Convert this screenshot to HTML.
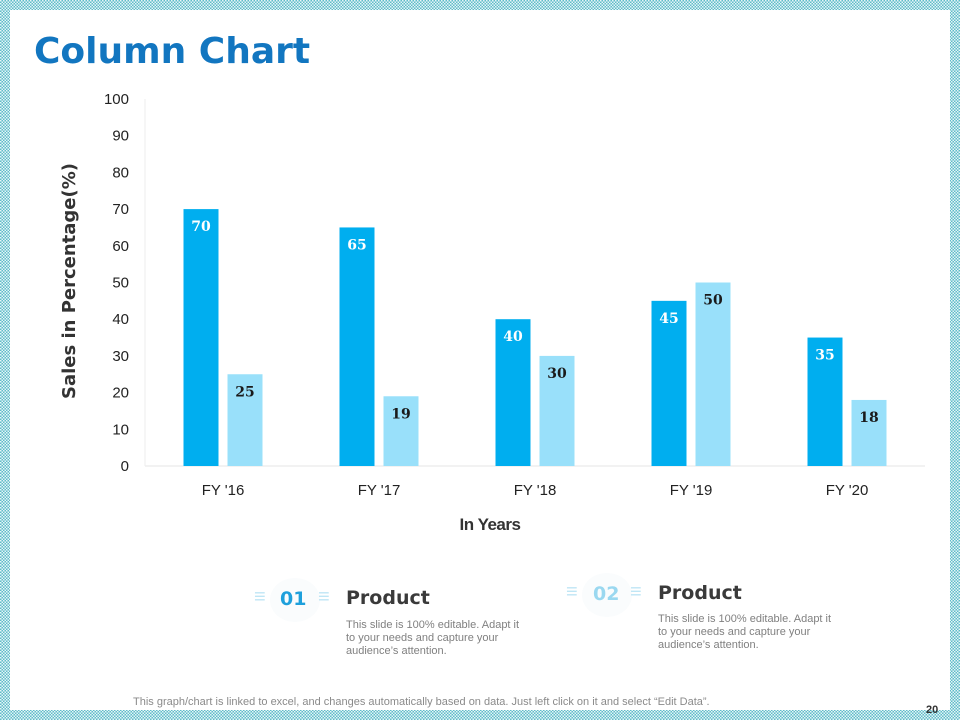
<!DOCTYPE html>
<html><head><meta charset="utf-8"><style>
body{margin:0;width:960px;height:720px;overflow:hidden;font-family:"Liberation Sans",sans-serif;}
#frame{position:absolute;left:0;top:0;width:960px;height:720px;background:repeating-conic-gradient(#5fbcc8 0 25%,#e6f5f7 0 50%) 0 0/3px 3px;}
#inner{position:absolute;left:10px;top:10px;width:940px;height:700px;background:#fff;}
.t{position:absolute;white-space:nowrap;}
</style></head><body>
<div id="frame"></div>
<div id="inner"></div>
<div class="t" style="left:34px;top:31px;font-size:36px;font-weight:bold;color:#1276c0;font-family:'DejaVu Sans',sans-serif;letter-spacing:0px">Column Chart</div>
<svg id="chart" width="960" height="720" style="position:absolute;left:0;top:0"></svg>
<div style="position:absolute;left:270px;top:578px;width:50px;height:44px;border-radius:50%;background:#fafcfd"></div>
<div class="t" style="left:280px;top:588px;font-size:19px;font-weight:bold;color:#1ea0dc;font-family:'DejaVu Sans',sans-serif">01</div>
<div class="t" style="left:254px;top:586px;font-size:20px;color:#bfe6f5">≡</div>
<div class="t" style="left:318px;top:586px;font-size:20px;color:#bfe6f5">≡</div>
<div class="t" style="left:346px;top:587px;font-size:19px;font-weight:bold;color:#3a3a3a;font-family:'DejaVu Sans',sans-serif">Product</div>
<div class="t" style="left:346px;top:619px;font-size:11px;line-height:13px;color:#808080">This slide is 100% editable. Adapt it<br>to your needs and capture your<br>audience’s attention.</div>
<div style="position:absolute;left:582px;top:573px;width:50px;height:44px;border-radius:50%;background:#fafcfd"></div>
<div class="t" style="left:593px;top:583px;font-size:19px;font-weight:bold;color:#9ad8f0;font-family:'DejaVu Sans',sans-serif">02</div>
<div class="t" style="left:566px;top:581px;font-size:20px;color:#bfe6f5">≡</div>
<div class="t" style="left:630px;top:581px;font-size:20px;color:#bfe6f5">≡</div>
<div class="t" style="left:658px;top:582px;font-size:19px;font-weight:bold;color:#3a3a3a;font-family:'DejaVu Sans',sans-serif">Product</div>
<div class="t" style="left:658px;top:613px;font-size:11px;line-height:13px;color:#808080">This slide is 100% editable. Adapt it<br>to your needs and capture your<br>audience’s attention.</div>
<div class="t" style="left:133px;top:696px;font-size:11px;color:#8a8a8a">This graph/chart is linked to excel, and changes automatically based on data. Just left click on it and select “Edit Data”.</div>
<div class="t" style="left:926px;top:704px;font-size:11px;font-weight:bold;color:#333">20</div>
<script>
const categories=["FY '16","FY '17","FY '18","FY '19","FY '20"];
const series1=[70,65,40,45,35];
const series2=[25,19,30,50,18];
const yTicks=[0,10,20,30,40,50,60,70,80,90,100];
const svg=document.getElementById('chart');
const NS='http://www.w3.org/2000/svg';
const x0=145,x1=925,yBase=466,yTop=99,yMax=100;
const y=v=>yBase-(v/yMax)*(yBase-yTop);
const band=(x1-x0)/categories.length;
const cx=i=>x0+band*(i+0.5);
function mk(tag,attrs,txt){const e=document.createElementNS(NS,tag);for(const k in attrs)e.setAttribute(k,attrs[k]);if(txt!==undefined)e.textContent=txt;svg.appendChild(e);return e;}
let l=mk('line',{x1:x0,x2:x1,y1:yBase,y2:yBase,stroke:'#e6e6e6'});


l=mk('line',{x1:x0,x2:x0,y1:yTop,y2:yBase,stroke:'#eeeeee'});


yTicks.forEach(t=>{const e=mk('text',{x:129,y:y(t)+5,'text-anchor':'end','font-size':15,fill:'#222','font-family':'Liberation Sans'},t);

});
const bw=35,gap=9;
categories.forEach((c,i)=>{
 const xa=cx(i)-gap/2-bw, xb=cx(i)+gap/2;
 let r=mk('rect',{x:xa,y:y(series1[i]),width:bw,height:yBase-y(series1[i]),fill:'#00aeef'});
 
 
 r=mk('rect',{x:xb,y:y(series2[i]),width:bw,height:yBase-y(series2[i]),fill:'#99e0fa'});
 
 
 let t=mk('text',{x:xa+bw/2,y:y(series1[i])+22,'text-anchor':'middle','font-size':14,'font-weight':'bold',fill:'#fff','font-family':'DejaVu Serif'},series1[i]);
 
 
 t=mk('text',{x:xb+bw/2,y:y(series2[i])+22,'text-anchor':'middle','font-size':14,'font-weight':'bold',fill:'#1a1a1a','font-family':'DejaVu Serif'},series2[i]);
 
 
 t=mk('text',{x:cx(i),y:495,'text-anchor':'middle','font-size':15,fill:'#222','font-family':'Liberation Sans'},c);
 
 
});
let t=mk('text',{x:490,y:530,'text-anchor':'middle','font-size':17,'font-weight':'bold',fill:'#333','font-family':'Liberation Sans','letter-spacing':'-0.5'},'In Years');


t=mk('text',{x:0,y:0,'text-anchor':'middle','font-size':18,'font-weight':'bold',fill:'#333','font-family':'DejaVu Sans',transform:'translate(75,281) rotate(-90)'},'Sales in Percentage(%)');


</script>
</body></html>
